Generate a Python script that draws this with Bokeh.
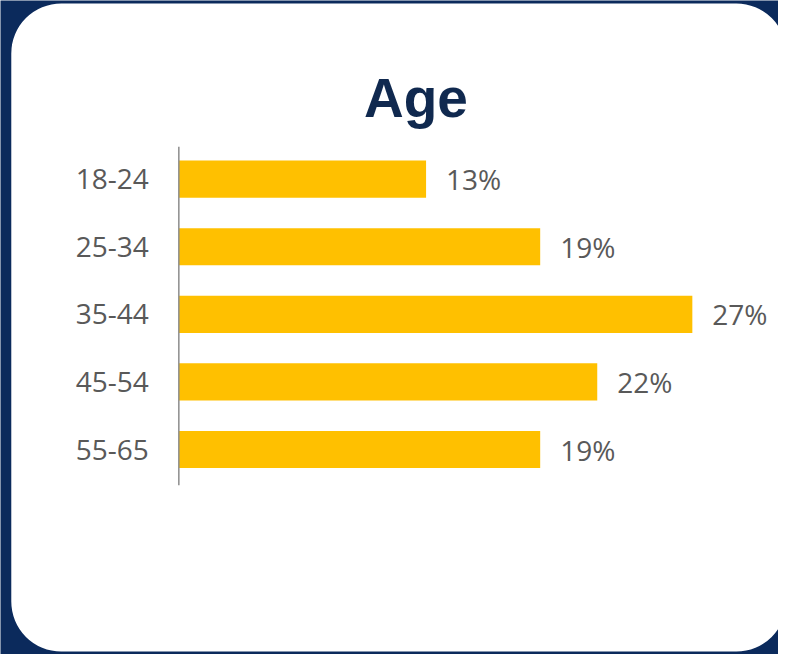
from bokeh.plotting import figure
from bokeh.models import Range1d, BoxAnnotation, Label, ColumnDataSource
from bokeh.core.properties import value
from bokeh.embed import file_html
from bokeh.resources import INLINE

# ---- data ----
title_text = "Age"
categories = ["18-24", "25-34", "35-44", "45-54", "55-65"]
shares = [13, 19, 27, 22, 19]
value_labels = [f"{v}%" for v in shares]

NAVY = "#0B2A5C"
TITLE = "#10294F"
GOLD = "#FFC000"
GREY_TXT = "#595959"

W, H = 778, 654
SX, SY = W / 794, H / 670          # layout measured on a 794x670 canvas
px_per_unit = 19.41 * SX
x0_px = 182 * SX
row_px = 69.25 * SY
row0_px = 183 * SY

def xv(px):
    return (px * SX - x0_px) / px_per_unit

def yv(px):
    return (px * SY - row0_px) / row_px

p = figure(width=W, height=H, output_backend="svg", toolbar_location=None,
           x_range=Range1d(xv(0), xv(794)), y_range=Range1d(yv(670), yv(0)),
           x_axis_type=None, y_axis_type=None, min_border=0,
           background_fill_color=NAVY, border_fill_color=NAVY)
p.outline_line_color = None
p.grid.visible = False

# white rounded card
card = BoxAnnotation(left=xv(11), right=xv(802), top=yv(3), bottom=yv(667),
                     fill_color="white", fill_alpha=1.0, line_color=None,
                     border_radius=50, level="underlay")
p.add_layout(card)

rows = list(range(len(categories)))
src = ColumnDataSource(dict(y=rows, share=shares, cat=categories, lab=value_labels))

p.hbar(y="y", left=0, right="share", height=0.55, source=src,
       fill_color=GOLD, line_color=None)

# vertical axis line
p.segment(x0=0, x1=0, y0=-0.48, y1=len(categories) - 0.47, line_color="#8C8C8C", line_width=1.5)

p.text(x=0, y="y", text="cat", source=src, x_offset=-30,
       text_align="right", text_baseline="middle",
       text_font=value("Open Sans"), text_font_size="28px", text_color=GREY_TXT)

p.text(x="share", y="y", text="lab", source=src, x_offset=20,
       text_align="left", text_baseline="middle",
       text_font=value("Open Sans"), text_font_size="28px", text_color=GREY_TXT)

title = Label(x=xv(424), y=yv(100), text=title_text,
              text_align="center", text_baseline="alphabetic",
              text_font="Liberation Sans", text_font_style="bold",
              text_font_size="55px", text_color=TITLE)
p.add_layout(title)

open("out.html", "w").write(file_html(p, INLINE))
